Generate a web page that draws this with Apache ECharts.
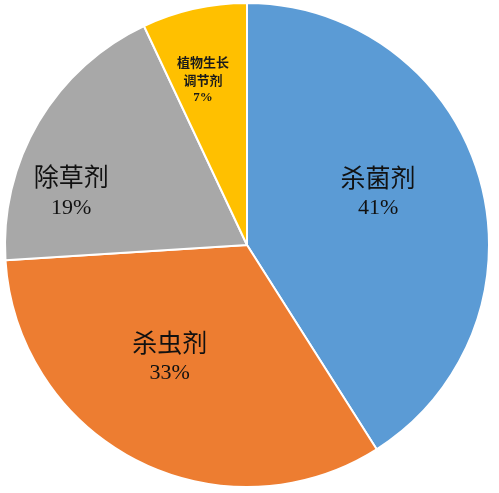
<!DOCTYPE html>
<html>
<head>
<meta charset="utf-8">
<style>
  html, body { margin: 0; padding: 0; background: #fff; }
  #chart { width: 499px; height: 493px; }
</style>
<script src="https://cdn.jsdelivr.net/npm/echarts@6/dist/echarts.min.js"></script>
</head>
<body>
<div id="chart"></div>
<script>
// 农药类别及占比（%）
const categories = ['杀菌剂', '杀虫剂', '除草剂', '植物生长调节剂'];
const shares = [41, 33, 19, 7];
// 图上显示的标签名（长名称换行）
const labelNames = ['杀菌剂', '杀虫剂', '除草剂', '植物生长\n调节剂'];
const colors = ['#5B9BD5', '#ED7D31', '#A8A8A8', '#FFC000'];

// 标签微调（相对默认 inside 位置）
const labelNudge = [[12, -19], [-21, 1], [-69, 9], [-17, -44]];

const chart = echarts.init(document.getElementById('chart'));

const data = categories.map(function (name, i) {
  const item = {
    name: name,
    value: shares[i],
    itemStyle: { color: colors[i] }
  };
  if (i === 3) {
    // 小扇区用小号粗体
    item.label = {
      formatter: function (p) {
        return '{s|' + labelNames[p.dataIndex] + '}\n{sp|' + p.value + '%}';
      }
    };
  }
  return item;
});

chart.setOption({
  animation: false,
  series: [{
    type: 'pie',
    center: [247, 245],
    radius: [0, 242],
    startAngle: 90,
    clockwise: true,
    data: data,
    itemStyle: { borderColor: '#fff', borderWidth: 2 },
    label: {
      position: 'inside',
      formatter: function (p) {
        return '{n|' + labelNames[p.dataIndex] + '}\n{p|' + p.value + '%}';
      },
      rich: {
        n: { fontFamily: 'Noto Sans CJK SC', fontSize: 25, color: '#111', lineHeight: 34, align: 'center' },
        p: { fontFamily: 'Liberation Serif', fontSize: 22, color: '#111', lineHeight: 28, align: 'center' },
        s: { fontFamily: 'Noto Sans CJK SC', fontSize: 13, fontWeight: 'bold', color: '#1a1a1a', lineHeight: 18, align: 'center' },
        sp: { fontFamily: 'Liberation Serif', fontSize: 13, fontWeight: 'bold', color: '#1a1a1a', lineHeight: 18, align: 'center' }
      }
    },
    labelLine: { show: false },
    labelLayout: function (params) {
      const d = labelNudge[params.dataIndex];
      return { dx: d[0], dy: d[1] };
    }
  }]
});
</script>
</body>
</html>
